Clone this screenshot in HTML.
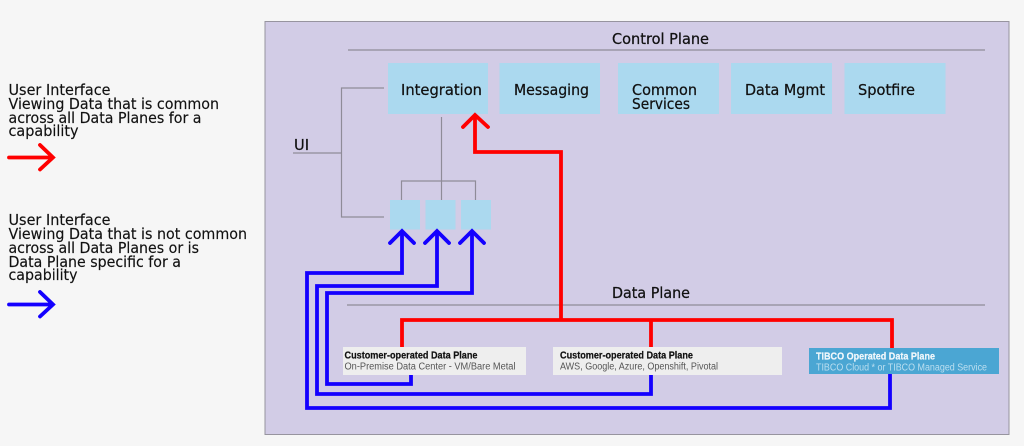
<!DOCTYPE html>
<html lang="en">
<head>
<meta charset="utf-8">
<title>Control Plane and Data Plane diagram</title>
<style>
html,body{margin:0;padding:0;width:1024px;height:446px;overflow:hidden;background:#f6f6f6}
svg{display:block}
text{font-family:"DejaVu Sans","Liberation Sans",sans-serif;fill:#111}
.l{font-size:15px;stroke:#111;stroke-width:.15px}
.n{font-size:15px;stroke:#111;stroke-width:.25px}
.t{font-family:"Liberation Sans",sans-serif;font-size:10px;font-weight:bold;fill:#111;stroke:#111;stroke-width:.2px}
.s{font-family:"Liberation Sans",sans-serif;font-size:10px;fill:#555}
</style>
</head>
<body>
<svg width="1024" height="446" viewBox="0 0 1024 446" xmlns="http://www.w3.org/2000/svg">
<rect x="265" y="21.500" width="744" height="413" fill="#d2cce6" stroke="#97949f" stroke-width="1"/>

<g fill="none" stroke="#8f8b98" stroke-width="1.200">
<path d="M348 50H985"/>
<path d="M347 305H985"/>
<path d="M384 88H341.500V217H384"/>
<path d="M293 153H341.500"/>
<path d="M441.500 117V200"/>
<path d="M401.500 200V181H475.500V200"/>
</g>

<g fill="#abd9ef">
<rect x="388" y="63" width="100" height="51"/>
<rect x="499.500" y="63" width="100.500" height="51"/>
<rect x="618" y="63" width="101" height="51"/>
<rect x="731" y="63" width="101" height="51"/>
<rect x="844.500" y="63" width="101" height="51"/>
<rect x="390" y="200" width="30" height="29.500"/>
<rect x="425.500" y="200" width="30" height="29.500"/>
<rect x="461" y="200" width="30" height="29.500"/>
</g>

<g fill="none" stroke="#ff0000" stroke-width="3.800" stroke-linejoin="miter">
<path d="M402 347V320H892V348"/>
<path d="M651 320V347"/>
<path d="M561 320V152H475V116"/>
</g>
<path d="M463 127L475 115L488 127" fill="none" stroke="#ff0000" stroke-width="3.800" stroke-linecap="round"/>

<g fill="none" stroke="#1400ff" stroke-width="3.800" stroke-linejoin="miter">
<path d="M411 374V384H327V293H472V232"/>
<path d="M651 374V394H317V286H437V232"/>
<path d="M890 372V408H307V273H402V232"/>
</g>
<g fill="none" stroke="#1400ff" stroke-width="3.800" stroke-linecap="round">
<path d="M390 243L402 231L414 243"/>
<path d="M425 243L437 231L449 243"/>
<path d="M460 243L472 231L484 243"/>
</g>

<rect x="343" y="347" width="183" height="28" fill="#eeeeee"/>
<rect x="553" y="347" width="229" height="28" fill="#eeeeee"/>
<rect x="809" y="348" width="190" height="26" fill="#4ba6d3"/>

<text class="n" x="612" y="44" textLength="97" lengthAdjust="spacingAndGlyphs">Control Plane</text>
<text class="n" x="612" y="298" textLength="78" lengthAdjust="spacingAndGlyphs">Data Plane</text>
<text class="n" x="294" y="150" textLength="15" lengthAdjust="spacingAndGlyphs">UI</text>
<text class="n" x="401" y="95" textLength="81" lengthAdjust="spacingAndGlyphs">Integration</text>
<text class="n" x="514" y="95" textLength="75" lengthAdjust="spacingAndGlyphs">Messaging</text>
<text class="n" x="632" y="95" textLength="65" lengthAdjust="spacingAndGlyphs">Common</text>
<text class="n" x="632" y="109" textLength="58" lengthAdjust="spacingAndGlyphs">Services</text>
<text class="n" x="745" y="95" textLength="80" lengthAdjust="spacingAndGlyphs">Data Mgmt</text>
<text class="n" x="858" y="95" textLength="57" lengthAdjust="spacingAndGlyphs">Spotfire</text>

<text class="t" x="344.500" y="358.500" textLength="133" lengthAdjust="spacingAndGlyphs">Customer-operated Data Plane</text>
<text class="s" x="344.500" y="369.500" textLength="171" lengthAdjust="spacingAndGlyphs">On-Premise Data Center - VM/Bare Metal</text>
<text class="t" x="560" y="358.500" textLength="133" lengthAdjust="spacingAndGlyphs">Customer-operated Data Plane</text>
<text class="s" x="560" y="369.500" textLength="158" lengthAdjust="spacingAndGlyphs">AWS, Google, Azure, Openshift, Pivotal</text>
<text class="t" x="816" y="359.500" textLength="119" lengthAdjust="spacingAndGlyphs" style="fill:#f2f8fc;stroke:#f2f8fc">TIBCO Operated Data Plane</text>
<text class="s" x="816" y="370.500" textLength="171" lengthAdjust="spacingAndGlyphs" style="fill:#bcdff0">TIBCO Cloud * or TIBCO Managed Service</text>

<text class="l" x="8.500" y="95" textLength="102" lengthAdjust="spacingAndGlyphs">User Interface</text>
<text class="l" x="8.500" y="109" textLength="210.500" lengthAdjust="spacingAndGlyphs">Viewing Data that is common</text>
<text class="l" x="8.500" y="123" textLength="193" lengthAdjust="spacingAndGlyphs">across all Data Planes for a</text>
<text class="l" x="8.500" y="136" textLength="70" lengthAdjust="spacingAndGlyphs">capability</text>
<path d="M9 157.500H52M40 145L53 157.500L40 169.500" fill="none" stroke="#ff0000" stroke-width="3.800" stroke-linecap="round"/>

<text class="l" x="8.500" y="225" textLength="102" lengthAdjust="spacingAndGlyphs">User Interface</text>
<text class="l" x="8.500" y="239" textLength="238.500" lengthAdjust="spacingAndGlyphs">Viewing Data that is not common</text>
<text class="l" x="8.500" y="253" textLength="190.500" lengthAdjust="spacingAndGlyphs">across all Data Planes or is</text>
<text class="l" x="8.500" y="267" textLength="172.500" lengthAdjust="spacingAndGlyphs">Data Plane specific for a</text>
<text class="l" x="8.500" y="280" textLength="69" lengthAdjust="spacingAndGlyphs">capability</text>
<path d="M9 304.500H52M40 292L53 304.500L40 316.500" fill="none" stroke="#1400ff" stroke-width="3.800" stroke-linecap="round"/>
</svg>
</body>
</html>
